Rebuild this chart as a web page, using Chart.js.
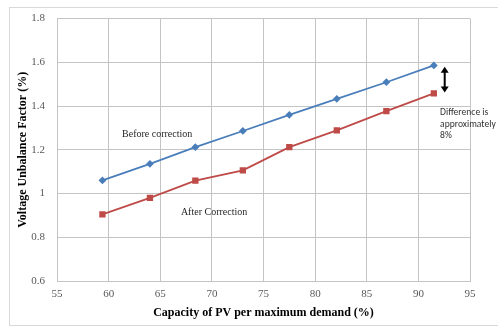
<!DOCTYPE html>
<html>
<head>
<meta charset="utf-8">
<script src="https://cdn.jsdelivr.net/npm/chart.js@4/dist/chart.umd.min.js"></script>
<style>
  html, body { margin: 0; padding: 0; background: #ffffff; }
  #wrap { position: relative; width: 498px; height: 329px; }
</style>
</head>
<body>
<div id="wrap"><canvas id="chart" width="498" height="329"></canvas></div>
<script>
// PV capacity as a share of maximum demand (%)
const pvCapacity = [59.4, 64.0, 68.4, 73.0, 77.5, 82.1, 86.9, 91.5];
// Voltage unbalance factor (%) before and after correction
const vufBefore = [1.06, 1.136, 1.212, 1.286, 1.36, 1.433, 1.509, 1.586];
const vufAfter  = [0.905, 0.98, 1.059, 1.106, 1.212, 1.289, 1.377, 1.458];
// Axis tick ranges
const xTicks = { min: 55, max: 95, step: 5 };
const yTicks = { min: 0.6, max: 1.8, step: 0.2 };

const serif = '"Liberation Serif", "Times New Roman", serif';
const narrow = 'Carlito, "Liberation Sans Narrow", "DejaVu Sans Condensed", Arial, sans-serif';

const toPoints = vals => vals.map((v, i) => ({ x: pvCapacity[i], y: v }));

// Outer frame, text notes and the double-headed arrow
const notes = {
  id: 'notes',
  beforeDraw(chart) {
    const c = chart.ctx;
    c.save();
    c.strokeStyle = '#d9d9d9';
    c.lineWidth = 1;
    c.strokeRect(9.5, 7.5, 520, 318);
    c.restore();
  },
  afterDatasetsDraw(chart) {
    const c = chart.ctx;
    const xs = chart.scales.x, ys = chart.scales.y;
    c.save();
    c.fillStyle = '#262626';
    c.font = '10px ' + serif;
    c.textBaseline = 'middle';
    c.textAlign = 'left';
    c.fillText('Before correction', xs.getPixelForValue(61.3), ys.getPixelForValue(1.27));
    c.fillText('After Correction', xs.getPixelForValue(67.0), ys.getPixelForValue(0.912));

    // arrow between the two end points
    const ax = xs.getPixelForValue(92.55);
    const y1 = ys.getPixelForValue(1.58), y2 = ys.getPixelForValue(1.462);
    c.strokeStyle = '#000';
    c.fillStyle = '#000';
    c.lineWidth = 2;
    c.beginPath();
    c.moveTo(ax, y1 + 3);
    c.lineTo(ax, y2 - 3);
    c.stroke();
    c.beginPath();
    c.moveTo(ax, y1); c.lineTo(ax - 4, y1 + 6); c.lineTo(ax + 4, y1 + 6); c.closePath(); c.fill();
    c.beginPath();
    c.moveTo(ax, y2); c.lineTo(ax - 4, y2 - 6); c.lineTo(ax + 4, y2 - 6); c.closePath(); c.fill();

    c.fillStyle = '#333333';
    c.font = '9.6px ' + narrow;
    const tx = xs.getPixelForValue(92.1);
    c.fillText('Difference is', tx, 113);
    c.fillText('approximately', tx, 124.5);
    c.fillText('8%', tx, 136);
    c.restore();
  }
};

new Chart(document.getElementById('chart'), {
  type: 'scatter',
  data: {
    datasets: [
      {
        label: 'Before correction',
        data: toPoints(vufBefore),
        showLine: true,
        borderColor: '#4a7ebb',
        backgroundColor: '#4a7ebb',
        borderWidth: 1.8,
        pointStyle: 'rectRot',
        pointRadius: 2.6,
        pointHoverRadius: 2.6
      },
      {
        label: 'After correction',
        data: toPoints(vufAfter),
        showLine: true,
        borderColor: '#be4b48',
        backgroundColor: '#be4b48',
        borderWidth: 1.8,
        pointStyle: 'rect',
        pointRadius: 3.2,
        pointHoverRadius: 3.2
      }
    ]
  },
  options: {
    responsive: false,
    animation: false,
    layout: { padding: { left: 0, right: 28, top: 16, bottom: 0 } },
    plugins: { legend: { display: false }, tooltip: { enabled: false } },
    scales: {
      x: {
        type: 'linear',
        min: xTicks.min, max: xTicks.max,
        ticks: { stepSize: xTicks.step, color: '#595959', font: { family: serif, size: 11 }, padding: 7 },
        grid: { color: '#c4c4c4', lineWidth: 1, drawTicks: false },
        border: { color: '#c4c4c4' },
        title: {
          display: true,
          text: 'Capacity of PV per maximum demand (%)',
          color: '#000',
          font: { family: serif, size: 12, weight: 'bold' },
          padding: { top: 0, bottom: 9 }
        },
        afterFit(scale) { scale.height = 48; }
      },
      y: {
        min: yTicks.min, max: yTicks.max,
        ticks: {
          stepSize: yTicks.step, color: '#595959', font: { family: serif, size: 11 }, padding: 12,
          callback: v => Number(v.toFixed(1)).toString()
        },
        grid: { color: '#c4c4c4', lineWidth: 1, drawTicks: false },
        border: { color: '#c4c4c4' },
        title: {
          display: true,
          text: 'Voltage Unbalance Factor (%)',
          color: '#000',
          font: { family: serif, size: 12, weight: 'bold' },
          padding: { top: 16, bottom: 0 }
        },
        afterFit(scale) { scale.width = 57; }
      }
    }
  },
  plugins: [notes]
});
</script>
</body>
</html>
